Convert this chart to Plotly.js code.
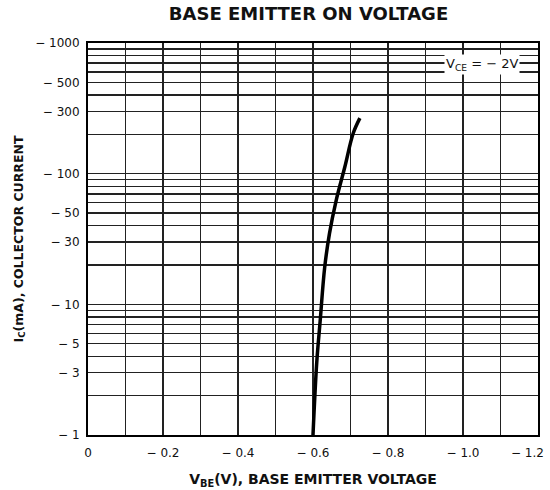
<!DOCTYPE html>
<html>
<head>
<meta charset="utf-8">
<script src="https://cdn.plot.ly/plotly-3.0.1.min.js"></script>
<style>html,body{margin:0;padding:0;background:#fff;}#chart{width:550px;height:490px;}</style>
</head>
<body>
<div id="chart"></div>
<script>
// Curve: V_BE (V) vs I_C (mA, magnitude)
const vbe = [-0.600, -0.610, -0.619, -0.631, -0.644, -0.662, -0.685, -0.707, -0.725];
const ic  = [1.0, 3.6, 7.4, 19.0, 34.9, 62.8, 113, 203, 266];

// x axis ticks (the last label, at the right edge, is drawn right-aligned below)
const xTickVals = [0, -0.1, -0.2, -0.3, -0.4, -0.5, -0.6, -0.7, -0.8, -0.9, -1.0, -1.1, -1.2];
const xTickText = ["0", " ", "\u2212 0.2", " ", "\u2212 0.4", " ", "\u2212 0.6", " ", "\u2212 0.8", " ", "\u2212 1.0", " ", " "];
const xEdgeLabel = "\u2212 1.2";
const xEdgeValue = -1.2;

// y axis grid values and labels
const yGridVals = [1,2,3,4,5,6,7,8,9,10,20,30,40,50,60,70,80,90,100,200,300,400,500,600,700,800,900,1000];
const yLabelVals = [1, 3, 5, 10, 30, 50, 100, 300, 500, 1000];
const yLabelText = ["\u2212 1", "\u2212 3", "\u2212 5", "\u2212 10", "\u2212 30", "\u2212 50", "\u2212 100", "\u2212 300", "\u2212 500", "\u2212 1000"];

const yTickText = yGridVals.map(v => {
  const i = yLabelVals.indexOf(v);
  return i >= 0 ? yLabelText[i] : " ";
});

const trace = {
  x: vbe, y: ic, type: "scatter", mode: "lines",
  line: {color: "#000", width: 3.5, shape: "spline", smoothing: 1},
  hoverinfo: "none"
};

const F = "DejaVu Sans, Liberation Sans, Arial, sans-serif";

const layout = {
  width: 550, height: 490,
  margin: {l: 88, r: 12, t: 43, b: 55},
  paper_bgcolor: "#fff", plot_bgcolor: "#fff",
  showlegend: false,
  font: {family: F, color: "#111", size: 12},
  title: {
    text: "<b>BASE EMITTER ON VOLTAGE</b>",
    font: {family: F, size: 18, color: "#111"},
    xref: "paper", x: 0.49, xanchor: "center", yref: "container", y: 0.985, yanchor: "top"
  },
  xaxis: {
    range: [0, -1.2],
    tickmode: "array", tickvals: xTickVals, ticktext: xTickText,
    showgrid: true, gridcolor: "#222", gridwidth: 1.5,
    zeroline: false, showline: true, linecolor: "#000", linewidth: 2, mirror: true,
    ticks: "", ticklabelstandoff: 6,
    tickfont: {family: F, size: 12, color: "#111"},
    title: {text: "<b>V<sub>BE</sub>(V), BASE EMITTER VOLTAGE</b>", font: {family: F, size: 14, color: "#111"}, standoff: 15}
  },
  yaxis: {
    type: "log", range: [0, 3],
    tickmode: "array", tickvals: yGridVals, ticktext: yTickText,
    showgrid: true, gridcolor: "#222", gridwidth: 1.5,
    zeroline: false, showline: true, linecolor: "#000", linewidth: 2, mirror: true,
    ticks: "", ticklabelstandoff: 4, tickfont: {family: F, size: 12, color: "#111"},
    title: {text: "<b>I<sub>C</sub>(mA), COLLECTOR CURRENT</b>", font: {family: F, size: 12.5, color: "#111"}, standoff: 9}
  },
  annotations: [{
    xref: "paper", yref: "paper", x: 0.96, y: 0.945, xanchor: "right", yanchor: "middle",
    text: "V<sub>CE</sub> = \u2212 2V", showarrow: false,
    font: {family: F, size: 13, color: "#111"}, bgcolor: "#fff", borderpad: 1
  }, {
    xref: "x", yref: "paper", x: xEdgeValue, y: 0, xanchor: "right", yanchor: "top",
    xshift: 8, yshift: -9,
    text: xEdgeLabel, showarrow: false,
    font: {family: F, size: 12, color: "#111"}
  }]
};

Plotly.newPlot("chart", [trace], layout, {staticPlot: true, displayModeBar: false});
</script>
</body>
</html>
